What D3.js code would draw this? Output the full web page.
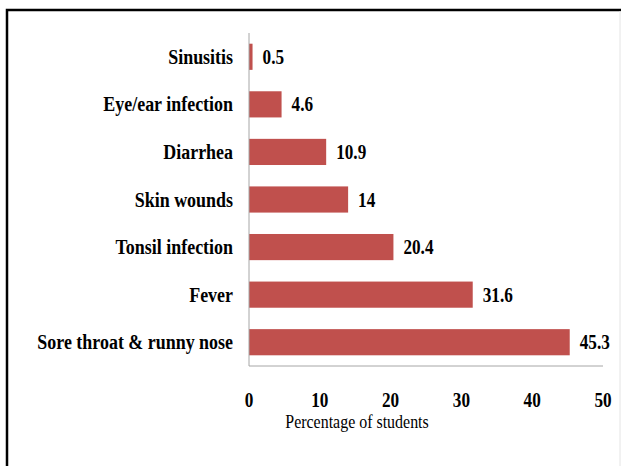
<!DOCTYPE html>
<html>
<head>
<meta charset="utf-8">
<script src="https://cdn.jsdelivr.net/npm/d3@7"></script>
<style>
  body { margin: 0; background: #fff; }
</style>
</head>
<body>
<div id="chart"></div>
<script>
// data, top to bottom as drawn
var categories = ["Sinusitis", "Eye/ear infection", "Diarrhea", "Skin wounds",
                  "Tonsil infection", "Fever", "Sore throat & runny nose"];
var values = [0.5, 4.6, 10.9, 14, 20.4, 31.6, 45.3];
var xTicks = [0, 10, 20, 30, 40, 50];
var axisTitle = "Percentage of students";

var width = 621, height = 466;
var serif = "'Liberation Serif', 'DejaVu Serif', serif";

var svg = d3.select("#chart").append("svg")
    .attr("width", width)
    .attr("height", height);

// outer frame
svg.append("rect")
    .attr("x", 7).attr("y", 10)
    .attr("width", 700).attr("height", 600)
    .style("fill", "white")
    .style("stroke", "black")
    .style("stroke-width", 2.5);
svg.append("line")
    .attr("x1", 620).attr("x2", 620).attr("y1", 11).attr("y2", height)
    .style("stroke", "#e4e4e4");

var x = d3.scaleLinear().domain([0, 50]).range([249, 603]);
var y = d3.scaleBand().domain(categories).range([33, 366]).paddingInner(0.45).paddingOuter(0.225);

// bars
svg.selectAll("rect.bar")
    .data(values)
    .enter().append("rect")
    .attr("class", "bar")
    .attr("x", x(0))
    .attr("y", function(d, i){ return y(categories[i]); })
    .attr("width", function(d){ return x(d) - x(0); })
    .attr("height", y.bandwidth())
    .style("fill", "#C0504D");

// axis lines
svg.append("line")
    .attr("x1", x(0)).attr("x2", x(0)).attr("y1", 33).attr("y2", 366)
    .style("stroke", "#a6a6a6").style("stroke-width", 1);
svg.append("line")
    .attr("x1", x(0)).attr("x2", x(50)).attr("y1", 366).attr("y2", 366)
    .style("stroke", "#a6a6a6").style("stroke-width", 1);

// text in the original is squeezed sideways, so scale x only
function squeezed(g, tx, ty, txt, anchor, size, weight, sx) {
    return g.append("text")
        .attr("transform", "translate(" + tx + "," + ty + ") scale(" + sx + ",1)")
        .attr("text-anchor", anchor)
        .style("font-family", serif)
        .style("font-size", size + "px")
        .style("font-weight", weight)
        .style("fill", "#000")
        .text(txt);
}

// category labels
categories.forEach(function(c) {
    squeezed(svg, 233, y(c) + y.bandwidth() / 2 + 7, c, "end", 21, "bold", 0.855);
});

// value labels
values.forEach(function(v, i) {
    squeezed(svg, x(v) + 10, y(categories[i]) + y.bandwidth() / 2 + 7, String(v), "start", 20, "bold", 0.86);
});

// x tick labels
xTicks.forEach(function(t) {
    squeezed(svg, x(t), 407, String(t), "middle", 20, "bold", 0.86);
});

// axis title
squeezed(svg, 357, 428, axisTitle, "middle", 19, "normal", 0.84);
</script>
</body>
</html>
